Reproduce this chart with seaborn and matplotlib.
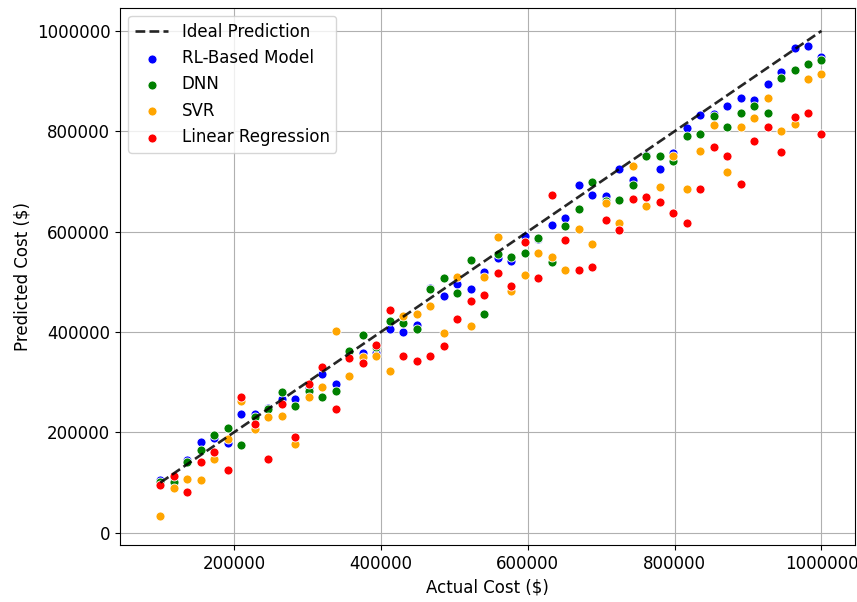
import numpy as np
import pandas as pd
import matplotlib
matplotlib.use('Agg')
import matplotlib.pyplot as plt
import seaborn as sns

plt.rcParams['font.family'] = 'DejaVu Sans'
plt.rcParams['font.size'] = 12

# --- dados ---
actual_cost = [100000, 118367, 136735, 155102, 173469, 191837, 210204, 228571, 246939, 265306,
               283673, 302041, 320408, 338776, 357143, 375510, 393878, 412245, 430612, 448980,
               467347, 485714, 504082, 522449, 540816, 559184, 577551, 595918, 614286, 632653,
               651020, 669388, 687755, 706122, 724490, 742857, 761224, 779592, 797959, 816327,
               834694, 853061, 871429, 889796, 908163, 926531, 944898, 963265, 981633, 1000000]

rl_pred = [105000, 112000, 145000, 181000, 189000, 179000, 237000, 237000, 248000, 267500,
           267500, 288000, 316000, 296000, 360000, 359000, 359000, 407000, 400000, 414000,
           488000, 471000, 495000, 485000, 520000, 548000, 542000, 591600, 586000, 613500,
           627000, 693000, 673300, 671000, 724500, 703000, 752000, 725100, 756000, 806200,
           833000, 835000, 850600, 867200, 862500, 893800, 919000, 965500, 970100, 947600]

dnn_pred = [102000, 101000, 142000, 164000, 194000, 208000, 174000, 231000, 247000, 279500,
            253000, 281500, 271000, 283000, 363000, 395000, 370000, 422000, 418000, 406000,
            485000, 508000, 477500, 544500, 435600, 555500, 550000, 557000, 587000, 539200,
            612000, 645400, 698600, 662000, 662500, 693200, 751600, 751600, 741600, 790800,
            794100, 830000, 808200, 837300, 850600, 837300, 907000, 922300, 933600, 942200]

svr_pred = [33000, 89000, 108000, 105000, 147000, 187000, 262000, 207000, 230000, 233000,
            177300, 271000, 290000, 403000, 313000, 351000, 352000, 323000, 432000, 435600,
            451000, 399000, 510600, 412000, 510600, 589000, 481000, 514000, 557000, 550400,
            524000, 606000, 575700, 657000, 617000, 731700, 652000, 688600, 751600, 685200,
            761500, 812000, 718500, 808200, 827400, 867200, 801200, 814100, 903700, 913700]

lr_pred = [96000, 114000, 82000, 141000, 161000, 125000, 270000, 217000, 147000, 256400,
           190600, 297000, 331000, 247000, 348000, 338500, 375000, 444000, 352600, 342600,
           352600, 372000, 425000, 461000, 474000, 517000, 491000, 580300, 508000, 673000,
           583600, 524000, 530500, 623500, 603600, 665700, 669000, 659500, 637000, 617000,
           685200, 768200, 751600, 695200, 781500, 808200, 758300, 828000, 837300, 794100]

ideal_x = [100000, 1000000]
ideal_y = [100000, 1000000]

series = [
    ('RL-Based Model', rl_pred, 'blue'),
    ('DNN', dnn_pred, 'green'),
    ('SVR', svr_pred, 'orange'),
    ('Linear Regression', lr_pred, 'red'),
]

x_ticks = [200000, 400000, 600000, 800000, 1000000]
y_ticks = [0, 200000, 400000, 600000, 800000, 1000000]

# --- figura ---
fig = plt.figure(figsize=(8.57, 6.02), dpi=100)
ax = fig.add_axes([0.140, 0.095, 0.858, 0.892])

ax.plot(ideal_x, ideal_y, 'k--', lw=1.9, alpha=0.85, label='Ideal Prediction')

for nome, valores, cor in series:
    df = pd.DataFrame({'actual': actual_cost, 'pred': valores})
    sns.scatterplot(data=df, x='actual', y='pred', color=cor, s=42,
                    edgecolor='white', linewidth=0.6, label=nome, ax=ax)

ax.set_xlim(45000, 1046000)
ax.set_ylim(-24000, 1046000)
ax.set_xticks(x_ticks)
ax.set_yticks(y_ticks)
ax.ticklabel_format(style='plain', axis='both')
ax.set_xlabel('Actual Cost ($)')
ax.set_ylabel('Predicted Cost ($)')
ax.grid(True)
ax.set_axisbelow(True)
ax.legend(loc='upper left')

plt.savefig('out.png', dpi=100)
plt.close()
